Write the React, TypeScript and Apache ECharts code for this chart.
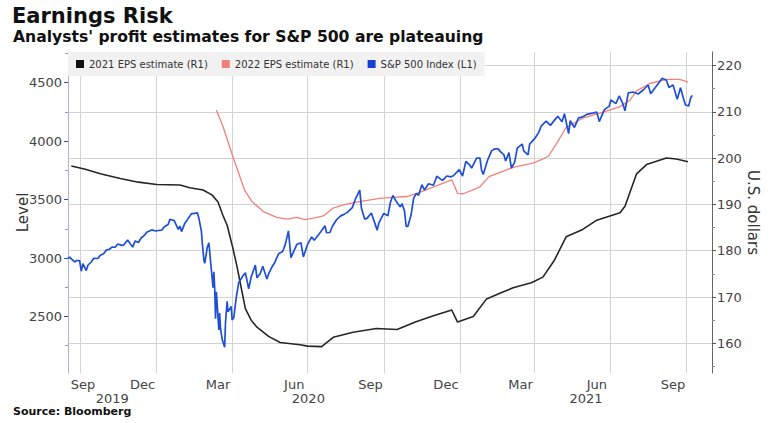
import React, { useEffect, useRef } from 'react';
import * as echarts from 'echarts';

const FONT = "'DejaVu Sans', Verdana, sans-serif";

// S&P 500 Index (left axis)
const SPX: [string, number][] = [
  ['2019-09-16', 2998], ['2019-09-18', 3007], ['2019-09-20', 2992], ['2019-09-24', 2966], ['2019-09-26', 2977],
  ['2019-09-30', 2977], ['2019-10-02', 2887], ['2019-10-04', 2952], ['2019-10-08', 2893], ['2019-10-10', 2938],
  ['2019-10-14', 2966], ['2019-10-17', 2998], ['2019-10-22', 2996], ['2019-10-25', 3023], ['2019-10-29', 3036],
  ['2019-11-01', 3067], ['2019-11-05', 3075], ['2019-11-08', 3093], ['2019-11-12', 3092], ['2019-11-15', 3120],
  ['2019-11-20', 3108], ['2019-11-22', 3110], ['2019-11-27', 3154], ['2019-12-03', 3093], ['2019-12-06', 3146],
  ['2019-12-10', 3132], ['2019-12-13', 3169], ['2019-12-17', 3193], ['2019-12-20', 3221], ['2019-12-26', 3240],
  ['2019-12-31', 3231], ['2020-01-03', 3235], ['2020-01-07', 3238], ['2020-01-10', 3265], ['2020-01-15', 3289],
  ['2020-01-17', 3330], ['2020-01-22', 3321], ['2020-01-27', 3244], ['2020-01-29', 3273], ['2020-01-31', 3226],
  ['2020-02-04', 3298], ['2020-02-07', 3328], ['2020-02-12', 3379], ['2020-02-14', 3380], ['2020-02-19', 3386],
  ['2020-02-21', 3338], ['2020-02-24', 3226], ['2020-02-25', 3128], ['2020-02-27', 2979], ['2020-02-28', 2954],
  ['2020-03-02', 3090], ['2020-03-04', 3130], ['2020-03-06', 2972], ['2020-03-09', 2747], ['2020-03-10', 2882],
  ['2020-03-11', 2741], ['2020-03-12', 2481], ['2020-03-13', 2711], ['2020-03-16', 2386], ['2020-03-17', 2529],
  ['2020-03-18', 2398], ['2020-03-20', 2305], ['2020-03-23', 2237], ['2020-03-24', 2447], ['2020-03-26', 2630],
  ['2020-03-27', 2541], ['2020-03-31', 2585], ['2020-04-01', 2471], ['2020-04-03', 2489], ['2020-04-06', 2664],
  ['2020-04-09', 2790], ['2020-04-14', 2846], ['2020-04-17', 2875], ['2020-04-21', 2737], ['2020-04-24', 2837],
  ['2020-04-29', 2940], ['2020-05-01', 2831], ['2020-05-05', 2868], ['2020-05-08', 2930], ['2020-05-13', 2820],
  ['2020-05-15', 2864], ['2020-05-19', 2923], ['2020-05-22', 2955], ['2020-05-27', 3036], ['2020-06-01', 3056],
  ['2020-06-04', 3112], ['2020-06-08', 3232], ['2020-06-11', 3002], ['2020-06-15', 3067], ['2020-06-18', 3115],
  ['2020-06-23', 3131], ['2020-06-26', 3009], ['2020-07-01', 3116], ['2020-07-06', 3180], ['2020-07-09', 3152],
  ['2020-07-14', 3197], ['2020-07-17', 3225], ['2020-07-22', 3276], ['2020-07-24', 3216], ['2020-07-28', 3218],
  ['2020-07-31', 3271], ['2020-08-05', 3327], ['2020-08-10', 3360], ['2020-08-14', 3373], ['2020-08-18', 3390],
  ['2020-08-24', 3431], ['2020-08-28', 3508], ['2020-09-02', 3580], ['2020-09-04', 3427], ['2020-09-08', 3332],
  ['2020-09-11', 3341], ['2020-09-16', 3385], ['2020-09-21', 3281], ['2020-09-23', 3237], ['2020-09-25', 3298],
  ['2020-10-01', 3381], ['2020-10-06', 3361], ['2020-10-09', 3477], ['2020-10-12', 3534], ['2020-10-16', 3484],
  ['2020-10-21', 3436], ['2020-10-23', 3465], ['2020-10-26', 3401], ['2020-10-28', 3271], ['2020-10-30', 3270],
  ['2020-11-03', 3369], ['2020-11-06', 3510], ['2020-11-09', 3551], ['2020-11-12', 3537], ['2020-11-16', 3627],
  ['2020-11-19', 3582], ['2020-11-24', 3635], ['2020-11-30', 3622], ['2020-12-04', 3699], ['2020-12-09', 3672],
  ['2020-12-11', 3663], ['2020-12-16', 3701], ['2020-12-21', 3694], ['2020-12-24', 3703], ['2020-12-31', 3756],
  ['2021-01-04', 3701], ['2021-01-08', 3825], ['2021-01-12', 3801], ['2021-01-15', 3768], ['2021-01-21', 3853],
  ['2021-01-25', 3855], ['2021-01-27', 3750], ['2021-01-29', 3714], ['2021-02-03', 3831], ['2021-02-08', 3916],
  ['2021-02-12', 3934], ['2021-02-16', 3933], ['2021-02-19', 3907], ['2021-02-23', 3881], ['2021-02-25', 3829],
  ['2021-03-01', 3901], ['2021-03-04', 3768], ['2021-03-08', 3821], ['2021-03-11', 3939], ['2021-03-17', 3974],
  ['2021-03-19', 3913], ['2021-03-24', 3881], ['2021-03-26', 3974], ['2021-04-01', 4020], ['2021-04-06', 4074],
  ['2021-04-09', 4129], ['2021-04-15', 4170], ['2021-04-20', 4134], ['2021-04-26', 4187], ['2021-04-29', 4211],
  ['2021-05-04', 4165], ['2021-05-07', 4233], ['2021-05-12', 4063], ['2021-05-14', 4174], ['2021-05-19', 4116],
  ['2021-05-24', 4198], ['2021-05-28', 4204], ['2021-06-04', 4230], ['2021-06-10', 4239], ['2021-06-15', 4247],
  ['2021-06-18', 4166], ['2021-06-24', 4266], ['2021-06-30', 4298], ['2021-07-02', 4352], ['2021-07-08', 4320],
  ['2021-07-12', 4385], ['2021-07-16', 4327], ['2021-07-19', 4258], ['2021-07-23', 4412], ['2021-07-29', 4419],
  ['2021-08-04', 4402], ['2021-08-10', 4436], ['2021-08-16', 4479], ['2021-08-19', 4405], ['2021-08-26', 4470],
  ['2021-09-02', 4537], ['2021-09-07', 4520], ['2021-09-10', 4458], ['2021-09-15', 4480], ['2021-09-20', 4358],
  ['2021-09-24', 4455], ['2021-09-28', 4353], ['2021-09-30', 4308], ['2021-10-04', 4300], ['2021-10-06', 4363],
  ['2021-10-08', 4391],
];

// 2021 EPS estimate (right axis)
const EPS_2021: [string, number][] = [
  ['2019-09-20', 198.3], ['2019-10-07', 197.6], ['2019-10-25', 196.6], ['2019-11-18', 195.6], ['2019-12-10', 194.8],
  ['2020-01-01', 194.3], ['2020-01-29', 194.2], ['2020-02-10', 193.6], ['2020-02-26', 193.1], ['2020-03-08', 192.0],
  ['2020-03-15', 190.5], ['2020-03-21', 187.6], ['2020-03-26', 185.5], ['2020-04-02', 180.5], ['2020-04-07', 176.5],
  ['2020-04-17', 167.5], ['2020-04-24', 165.0], ['2020-05-01', 163.5], ['2020-05-15', 161.5], ['2020-05-29', 160.2],
  ['2020-06-22', 159.7], ['2020-07-01', 159.4], ['2020-07-18', 159.3], ['2020-08-01', 161.3], ['2020-08-25', 162.4],
  ['2020-09-22', 163.2], ['2020-10-17', 163.0], ['2020-11-08', 164.6], ['2020-11-29', 165.9], ['2020-12-22', 167.2],
  ['2020-12-29', 164.6], ['2021-01-17', 165.8], ['2021-02-02', 169.6], ['2021-02-18', 170.8], ['2021-03-06', 172.0],
  ['2021-03-28', 173.1], ['2021-04-11', 174.3], ['2021-04-25', 178.0], ['2021-05-09', 183.0], ['2021-05-29', 184.6],
  ['2021-06-15', 186.6], ['2021-07-13', 188.2], ['2021-07-19', 189.6], ['2021-08-02', 196.6], ['2021-08-14', 198.6],
  ['2021-09-07', 200.0], ['2021-09-19', 199.8], ['2021-10-03', 199.2],
];

// 2022 EPS estimate (right axis)
const EPS_2022: [string, number][] = [
  ['2020-03-13', 210.4], ['2020-03-21', 206.8], ['2020-04-02', 200.3], ['2020-04-16', 193.1], ['2020-04-25', 190.6],
  ['2020-05-09', 188.4], ['2020-05-25', 187.2], ['2020-06-06', 186.8], ['2020-06-18', 187.2], ['2020-06-28', 186.7],
  ['2020-07-10', 187.1], ['2020-07-20', 187.5], ['2020-08-01', 189.2], ['2020-08-13', 189.9], ['2020-08-29', 190.5],
  ['2020-09-26', 191.3], ['2020-10-12', 191.5], ['2020-10-29', 191.7], ['2020-11-10', 192.4], ['2020-12-12', 194.6],
  ['2020-12-22', 195.3], ['2020-12-29', 192.4], ['2021-01-05', 192.3], ['2021-01-25', 193.8], ['2021-02-05', 196.0],
  ['2021-03-06', 198.0], ['2021-03-30', 198.9], ['2021-04-10', 199.7], ['2021-04-18', 200.5], ['2021-04-27', 203.0],
  ['2021-05-09', 206.6], ['2021-05-29', 208.6], ['2021-06-19', 209.7], ['2021-07-13', 211.1], ['2021-07-25', 212.5],
  ['2021-08-02', 214.5], ['2021-08-18', 216.1], ['2021-09-07', 217.0], ['2021-09-23', 217.0], ['2021-10-03', 216.4],
];

const X_MIN = '2019-09-16';
const X_MAX = '2021-11-01';
const LEFT_MIN = 2017;
const LEFT_MAX = 4761;
const RIGHT_MIN = 153.6;
const RIGHT_MAX = 222.9;
const LEFT_TICKS = [2500, 3000, 3500, 4000, 4500];
const RIGHT_TICKS = [160, 170, 180, 190, 200, 210, 220];
const QUARTER_LINES = [
  '2019-10-01', '2020-01-01', '2020-04-01', '2020-07-01', '2020-10-01',
  '2021-01-01', '2021-04-01', '2021-07-01', '2021-10-01',
];
const MONTH_LABELS: [string, string][] = [
  ['2019-09-15', 'Sep'], ['2019-12-15', 'Dec'], ['2020-03-15', 'Mar'], ['2020-06-15', 'Jun'], ['2020-09-15', 'Sep'],
  ['2020-12-15', 'Dec'], ['2021-03-15', 'Mar'], ['2021-06-15', 'Jun'], ['2021-09-15', 'Sep'],
];
const YEARS = ['2019', '2020', '2021'];

const ts = (s: string) => Date.parse(s + 'T00:00:00Z');
const DAY = 86400000;

export default function App() {
  const ref = useRef<HTMLDivElement>(null);
  useEffect(() => {
    const chart = echarts.init(ref.current!, null, { renderer: 'svg' });
    const xMin = ts(X_MIN);
    const xMax = ts(X_MAX);
    // month labels centred in their month, clamped so the first one is not cut by the axis
    const monthMap = new Map<number, string>();
    MONTH_LABELS.forEach(([d, m]) => monthMap.set(Math.max(ts(d), xMin + 18 * DAY), m));
    // year labels centred on the visible part of each year
    const yearMap = new Map<number, string>();
    YEARS.forEach((y) => {
      const a = Math.max(ts(y + '-01-01'), xMin);
      const b = Math.min(ts(String(Number(y) + 1) + '-01-01'), xMax);
      yearMap.set(Math.round((a + b) / 2), y);
    });
    const toXY = (arr: [string, number][]) => arr.map(([d, v]) => [ts(d), v]);
    const labelStyle = { fontSize: 13, color: '#444', fontFamily: FONT };
    const gridColor = '#d3d3d3';

    chart.setOption({
      animation: false,
      backgroundColor: '#fff',
      textStyle: { fontFamily: FONT },
      grid: { left: 68, right: 58, top: 52, bottom: 50, containLabel: false, outerBoundsMode: 'none' },
      graphic: [
        { type: 'text', left: 12, top: 5, style: { text: 'Earnings Risk', font: `bold 21px ${FONT}`, fill: '#111' } },
        {
          type: 'text', left: 13, top: 29,
          style: { text: "Analysts' profit estimates for S&P 500 are plateauing", font: `bold 15.6px ${FONT}`, fill: '#111' },
        },
        { type: 'text', left: 13, top: 406, style: { text: 'Source: Bloomberg', font: `bold 11px ${FONT}`, fill: '#111' } },
      ],
      legend: {
        left: 68, top: 52, padding: [7, 8, 7, 8], backgroundColor: '#f1f1f1',
        itemWidth: 8, itemHeight: 8, itemGap: 14, icon: 'rect',
        textStyle: { fontSize: 10, color: '#333', fontFamily: FONT },
        data: ['2021 EPS estimate (R1)', '2022 EPS estimate (R1)', 'S&P 500 Index (L1)'],
      },
      xAxis: [
        {
          type: 'value', min: xMin, max: xMax,
          axisLine: { show: false },
          axisTick: { show: false, customValues: QUARTER_LINES.map(ts) },
          splitLine: { show: true, lineStyle: { color: gridColor, width: 1 } },
          axisLabel: {
            ...labelStyle, margin: 5,
            customValues: Array.from(monthMap.keys()),
            formatter: (v: number) => monthMap.get(v) ?? '',
          },
        },
        {
          type: 'value', min: xMin, max: xMax, position: 'bottom', offset: 14,
          axisLine: { show: false }, axisTick: { show: false }, splitLine: { show: false },
          axisLabel: {
            ...labelStyle, margin: 5,
            customValues: Array.from(yearMap.keys()),
            formatter: (v: number) => yearMap.get(v) ?? '',
          },
        },
      ],
      yAxis: [
        {
          type: 'value', position: 'left', min: LEFT_MIN, max: LEFT_MAX, minInterval: 500, maxInterval: 500,
          name: 'Level', nameLocation: 'middle', nameGap: 38, nameMoveOverlap: false,
          nameTextStyle: { fontSize: 15, color: '#333', fontFamily: FONT },
          axisLine: { show: true, lineStyle: { color: '#aab3e2' } },
          axisTick: { show: true, length: 4, customValues: LEFT_TICKS, lineStyle: { color: '#2d49c6' } },
          minorTick: { show: true, splitNumber: 2, length: 3, lineStyle: { color: '#8e9ad8' } },
          axisLabel: { ...labelStyle, margin: 6, customValues: LEFT_TICKS, formatter: (v: number) => String(v) },
          splitLine: { show: false },
        },
        {
          type: 'value', position: 'right', min: RIGHT_MIN, max: RIGHT_MAX, minInterval: 10, maxInterval: 10,
          name: 'U.S. dollars', nameLocation: 'middle', nameRotate: -90, nameGap: 33, nameMoveOverlap: false,
          nameTextStyle: { fontSize: 15, color: '#333', fontFamily: FONT },
          axisLine: { show: true, lineStyle: { color: '#666' } },
          axisTick: { show: true, length: 4, customValues: RIGHT_TICKS, lineStyle: { color: '#555' } },
          minorTick: { show: true, splitNumber: 2, length: 3, lineStyle: { color: '#888' } },
          axisLabel: { ...labelStyle, margin: 5, customValues: RIGHT_TICKS, formatter: (v: number) => String(v) },
          splitLine: { show: true, lineStyle: { color: gridColor, width: 1 } },
        },
      ],
      series: [
        {
          name: '2021 EPS estimate (R1)', type: 'line', xAxisIndex: 0, yAxisIndex: 1,
          data: toXY(EPS_2021), showSymbol: false, symbol: 'none',
          lineStyle: { color: '#262626', width: 1.6 }, itemStyle: { color: '#111' },
        },
        {
          name: '2022 EPS estimate (R1)', type: 'line', xAxisIndex: 0, yAxisIndex: 1,
          data: toXY(EPS_2022), showSymbol: false, symbol: 'none',
          lineStyle: { color: '#f4807a', width: 1.3 }, itemStyle: { color: '#f4807a' },
        },
        {
          name: 'S&P 500 Index (L1)', type: 'line', xAxisIndex: 0, yAxisIndex: 0,
          data: toXY(SPX), showSymbol: false, symbol: 'none',
          lineStyle: { color: '#1f4fd6', width: 1.7 }, itemStyle: { color: '#1a3fd0' },
        },
      ],
    });
    return () => chart.dispose();
  }, []);
  return (
    <div
      ref={ref}
      style={{ position: 'fixed', left: 0, top: 0, width: 770, height: 423, background: '#fff' }}
    />
  );
}
